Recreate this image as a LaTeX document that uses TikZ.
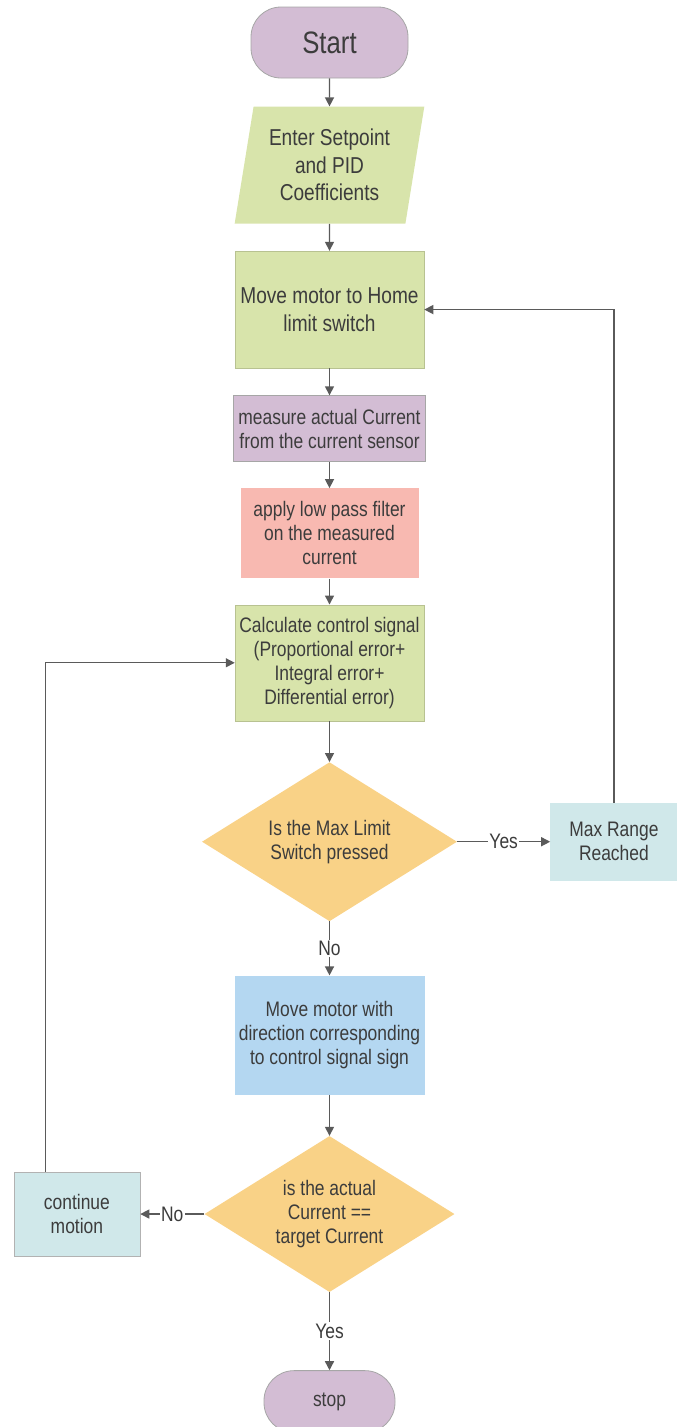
\documentclass[tikz,border=0pt]{standalone}
\usepackage{fontspec}
\setmainfont[FakeStretch=0.83]{Liberation Sans}
\usepackage{xcolor}
\definecolor{TermPurple}{HTML}{D3BDD4}
\definecolor{StepGreen}{HTML}{D8E4AB}
\definecolor{FilterPink}{HTML}{F8B9B1}
\definecolor{AskOrange}{HTML}{F9D287}
\definecolor{NoteCyan}{HTML}{D0E8EA}
\definecolor{MoveBlue}{HTML}{B4D7F1}
\definecolor{EdgeGray}{HTML}{5A5A5A}
\definecolor{LabelGray}{HTML}{3C3C3C}
\usepackage{tikz}
\usetikzlibrary{positioning,shapes.geometric,arrows.meta,calc}

\begin{document}
\begin{tikzpicture}[
        x=1pt, y=1pt,
        node distance=27pt,
        every node/.style={text=LabelGray, font=\fontsize{21}{24}\selectfont},
        bigtext/.style={font=\fontsize{23}{27.5}\selectfont},
        terminal/.style={
            rectangle, rounded corners=30pt,
            draw=gray!70, line width=0.8pt, fill=TermPurple,
            align=center
        },
        io/.style={
            trapezium, trapezium left angle=78.4, trapezium right angle=101.6,
            trapezium stretches=true, fill=StepGreen,
            minimum width=190pt, minimum height=117pt,
            inner sep=2pt, align=center
        },
        stepbox/.style={
            rectangle, inner sep=2pt, align=center
        },
        decision/.style={
            diamond, aspect=1.6, fill=AskOrange,
            inner sep=0pt, align=center
        },
        arrow/.style={-{Triangle[length=9pt, width=9pt]}, line width=1.4pt, draw=EdgeGray},
        edgelabel/.style={fill=white, inner sep=1.5pt}
    ]
        \useasboundingbox (0,0) rectangle (679,-1427);

        \node[terminal, minimum width=157pt, minimum height=71pt,
              font=\fontsize{31}{36}\selectfont] (start) at (329.5,-42.5) {Start};
        \node[io, bigtext, below=28pt of start] (setpoint) {Enter Setpoint\\and PID\\Coefficients};
        \node[stepbox, bigtext, fill=StepGreen, draw=StepGreen!85!black, line width=0.5pt,
              minimum width=189pt, minimum height=117pt, below=27pt of setpoint] (home) {Move motor to Home\\limit switch};
        \node[stepbox, fill=TermPurple, draw=gray!70, line width=0.8pt,
              minimum width=192pt, minimum height=66pt, below=27pt of home] (measure) {measure actual Current\\from the current sensor};
        \node[stepbox, fill=FilterPink, minimum width=178pt, minimum height=90pt,
              below=26pt of measure] (filter) {apply low pass filter\\on the measured\\current};
        \node[stepbox, fill=StepGreen, draw=StepGreen!85!black, line width=0.5pt,
              minimum width=189pt, minimum height=116pt, below=26pt of filter] (control) {Calculate control signal\\(Proportional error+\\Integral error+\\Differential error)};
        \node[decision, minimum width=255pt, minimum height=159pt,
              below=41pt of control] (maxlimit) {Is the Max Limit\\Switch pressed};
        \node[stepbox, fill=NoteCyan, minimum width=127pt, minimum height=78pt,
              right=93pt of maxlimit] (maxrange) {Max Range\\Reached};
        \node[stepbox, fill=MoveBlue, minimum width=190pt, minimum height=119pt,
              below=54pt of maxlimit] (move) {Move motor with\\direction corresponding\\to control signal sign};
        \node[decision, minimum width=250pt, minimum height=156pt,
              below=41pt of move] (target) {is the actual\\Current ==\\target Current};
        \node[stepbox, fill=NoteCyan, draw=gray!60, line width=0.8pt,
              minimum width=126pt, minimum height=84pt, left=64pt of target] (continue) {continue\\motion};
        \node[terminal, minimum width=131pt, minimum height=62pt,
              below=78pt of target] (stop) {stop};

        \draw[arrow] (start) -- (setpoint);
        \draw[arrow] (setpoint) -- (home);
        \draw[arrow] (home) -- (measure);
        \draw[arrow] (measure) -- (filter);
        \draw[arrow] (filter) -- (control);
        \draw[arrow] (control) -- (maxlimit);
        \draw[arrow] (maxlimit) -- node[edgelabel] {Yes} (maxrange);
        \draw[arrow] (maxrange.north) |- (home.east);
        \draw[arrow] (maxlimit) -- node[edgelabel] {No} (move);
        \draw[arrow] (move) -- (target);
        \draw[arrow] (target) -- node[edgelabel] {No} (continue);
        \draw[arrow] ($(continue.north west)!.25!(continue.north east)$) |- (control.west);
        \draw[arrow] (target) -- node[edgelabel] {Yes} (stop);
    \end{tikzpicture}
\end{document}
